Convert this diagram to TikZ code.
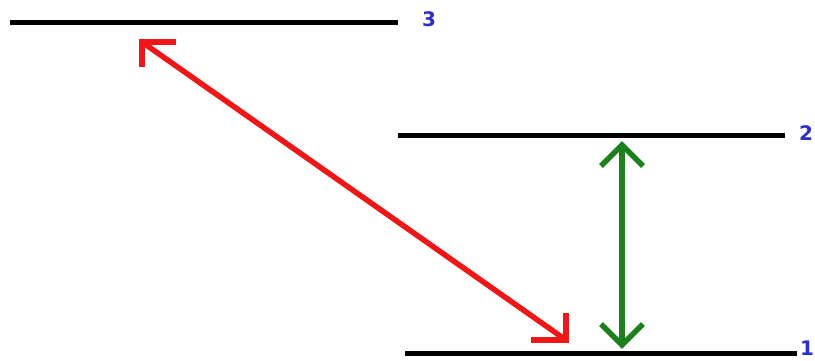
\documentclass[tikz,border=0pt]{standalone}
\usepackage{fontspec}
\setmainfont{DejaVu Sans}
\usetikzlibrary{calc}
\definecolor{lvlblue}{RGB}{45,45,205}
\definecolor{arrred}{RGB}{238,22,22}
\definecolor{arrgreen}{RGB}{28,128,28}
\tikzset{
  level/.style={line width=5pt, black},
  lbl/.style={text=lvlblue, font=\bfseries\fontsize{20}{20}\selectfont, inner sep=0pt},
  redline/.style={arrred, line width=5.5pt},
  greenline/.style={arrgreen, line width=5.5pt},
  head/.style={line join=miter, miter limit=10}
}
\begin{document}
\begin{tikzpicture}[x=1pt,y=-1pt]
\useasboundingbox (0,0) rectangle (815,360);
% levels
\coordinate (l3a) at (10,22);
\coordinate (l3b) at (398,22);
\coordinate (l2a) at (398,135);
\coordinate (l2b) at (785,135);
\coordinate (l1a) at (405,353);
\coordinate (l1b) at (797,353);
\draw[level] (l3a) -- (l3b);
\draw[level] (l2a) -- (l2b);
\draw[level] (l1a) -- (l1b);
\node[lbl] (n3) at (429,19) {3};
\node[lbl] (n2) at (806,133) {2};
\node[lbl] (n1) at (807,348) {1};
% red arrow
\coordinate (ra) at (142,42);
\coordinate (rb) at (566,340);
\draw[redline] (ra) -- (rb);
\draw[redline, head] ($(ra)+(34,0)$) -- (ra) -- ($(ra)+(0,25)$);
\draw[redline, head] ($(rb)+(-35,0)$) -- (rb) -- ($(rb)+(0,-27)$);
% green arrow
\coordinate (ga) at (622,145);
\coordinate (gb) at (622,345);
\draw[greenline] (ga) -- (gb);
\draw[greenline, head] ($(ga)+(-21,21)$) -- (ga) -- ($(ga)+(21,21)$);
\draw[greenline, head] ($(gb)+(-21,-21)$) -- (gb) -- ($(gb)+(21,-21)$);
\end{tikzpicture}
\end{document}
